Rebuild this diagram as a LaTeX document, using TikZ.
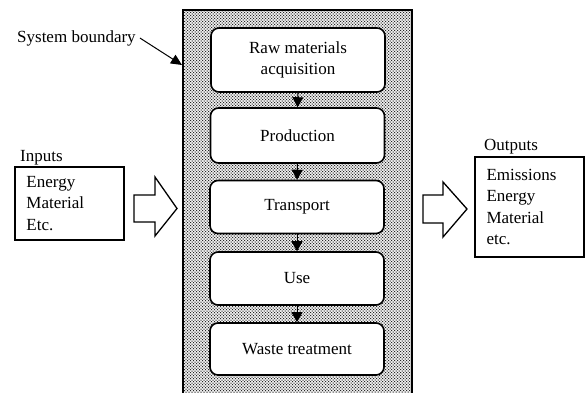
\documentclass[tikz,border=0pt]{standalone}
\usepackage{fontspec}
\setmainfont{Liberation Serif}
\usetikzlibrary{patterns,arrows.meta}

% fine stipple used for the system boundary
\pgfdeclarepatternformonly{stipple}{\pgfpoint{-1pt}{-1pt}}{\pgfpoint{4pt}{4pt}}{\pgfpoint{3pt}{3pt}}{%
  \pgfpathcircle{\pgfpoint{0pt}{0pt}}{0.75pt}%
  \pgfpathcircle{\pgfpoint{1.5pt}{1.5pt}}{0.75pt}%
  \pgfusepath{fill}}

\begin{document}
\begin{tikzpicture}[x=1pt,y=-1pt,
  txt/.style={font=\fontsize{17}{21.5}\selectfont},
  stage/.style={txt, draw, line width=1.6pt, rounded corners=8pt, fill=white,
    minimum width=174pt, align=center, inner sep=0pt},
  flow/.style={line width=1pt, -{Triangle[length=10pt,width=11pt]}},
  listbox/.style={txt, draw, line width=1.6pt, fill=white, text width=86pt,
    inner xsep=11.5pt, inner ysep=0pt, align=left},
  label/.style={txt, inner sep=0pt, anchor=west},
  blockarrow/.style={draw, line width=1.3pt, fill=white, line join=miter}]
\useasboundingbox (0,0) rectangle (587,392);
\clip (0,0) rectangle (587,392);

% system boundary with stippled fill
\draw[line width=1.8pt, pattern=stipple, pattern color=black!85]
  (183,10) rectangle (412,410);
\coordinate (bnd) at (182,65);

% life-cycle stages
\node[stage, minimum height=64pt] (raw) at (298,60) {Raw materials\\acquisition};
\node[stage, minimum height=55pt] (prod) at (297.5,135.5) {Production};
\node[stage, minimum height=53pt] (trans) at (297,207) {Transport};
\node[stage, minimum height=53pt] (use) at (297,278.5) {Use};
\node[stage, minimum height=52pt] (waste) at (297,349) {Waste treatment};

\draw[flow] (raw.south) -- (prod.north);
\draw[flow] (prod.south) -- (trans.north);
\draw[flow] (trans.south) -- (use.north);
\draw[flow] (use.south) -- (waste.north);

% boundary label
\node[label] (sb) at (17,38) {System boundary};
\draw[line width=1pt, -{Triangle[length=11pt,width=10pt]}] (sb.east) ++(4pt,0) -- (bnd);

% inputs
\node[label] (inlab) at (20,158) {Inputs};
\node[listbox, minimum height=73pt] (inbox) at (69.5,203.5) {Energy\\Material\\Etc.};
\draw[blockarrow] (134,195) -- (155,195) -- (155,177) -- (177,208.5)
  -- (155,236) -- (155,222) -- (134,222) -- cycle;

% outputs
\node[label] (outlab) at (484,147) {Outputs};
\node[listbox, minimum height=100pt] (outbox) at (529.5,207) {Emissions\\Energy\\Material\\etc.};
\draw[blockarrow] (423,195) -- (443,195) -- (443,182) -- (467,209)
  -- (443,237) -- (443,223) -- (423,223) -- cycle;
\end{tikzpicture}
\end{document}
